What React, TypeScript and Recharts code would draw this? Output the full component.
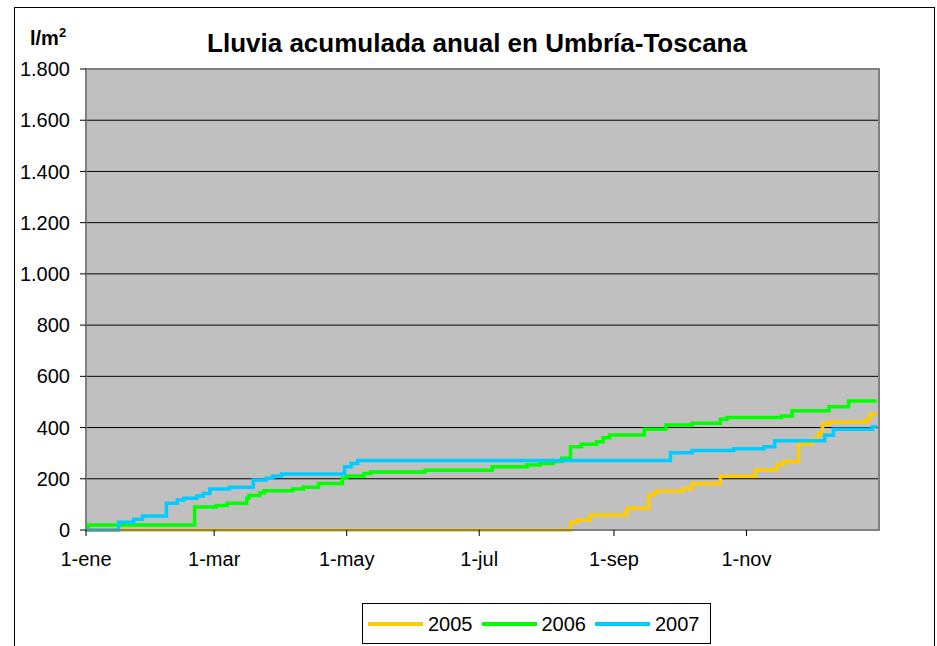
import React from 'react';
import { LineChart, Line, XAxis, YAxis, CartesianGrid, Legend, ReferenceArea } from 'recharts';

// Day-of-year ticks (0 = 1 January)
const X_TICK_DAYS = [0, 59, 120, 181, 243, 304];
const X_TICK_LABELS = ['1-ene', '1-mar', '1-may', '1-jul', '1-sep', '1-nov'];
const Y_TICKS = [0, 200, 400, 600, 800, 1000, 1200, 1400, 1600, 1800];
const Y_TICK_LABELS = ['0', '200', '400', '600', '800', '1.000', '1.200', '1.400', '1.600', '1.800'];

// Accumulated rainfall change points [day, l/m2]
const RAIN_2005: [number, number][] = [
  [0, 0], [223, 29], [226, 39], [232, 59], [249, 85], [259, 137], [262, 152],
  [275, 162], [279, 182], [292, 210], [308, 234], [318, 256], [321, 267],
  [328, 336], [334, 354], [337, 377], [339, 414], [342, 422], [359, 432], [361, 452], [364, 452],
];
const RAIN_2006: [number, number][] = [
  [0, 12], [1, 20], [50, 90], [60, 96], [65, 104], [74, 124], [75, 135], [80, 145],
  [82, 153], [95, 160], [100, 167], [107, 182], [118, 202], [120, 211], [128, 221],
  [131, 226], [156, 233], [187, 247], [203, 254], [209, 260], [215, 267], [219, 280],
  [223, 325], [228, 335], [235, 345], [238, 360], [241, 371], [257, 393], [267, 410],
  [279, 417], [292, 432], [295, 439], [320, 445], [325, 466], [342, 481], [351, 504], [364, 504],
];
const RAIN_2007: [number, number][] = [
  [0, 0], [15, 30], [22, 42], [26, 55], [37, 104], [42, 117], [45, 124], [51, 133],
  [54, 143], [57, 160], [66, 167], [77, 195], [83, 202], [86, 211], [90, 219],
  [119, 247], [122, 260], [125, 271], [269, 302], [279, 310], [298, 317], [312, 325],
  [317, 348], [340, 370], [344, 393], [362, 403], [364, 403],
];

const SERIES = [
  { name: '2005', color: '#FFCC00', points: RAIN_2005 },
  { name: '2006', color: '#00FF00', points: RAIN_2006 },
  { name: '2007', color: '#00CCFF', points: RAIN_2007 },
];

const FONT = '"Liberation Sans", Arial, Helvetica, sans-serif';

const fmtX = (d: number) => {
  const i = X_TICK_DAYS.indexOf(d);
  return i >= 0 ? X_TICK_LABELS[i] : '';
};
const fmtY = (v: number) => {
  const i = Y_TICKS.indexOf(v);
  return i >= 0 ? Y_TICK_LABELS[i] : String(v);
};

const LegendBox = () => (
  <div
    style={{
      boxSizing: 'border-box',
      width: 349,
      height: 41,
      border: '1px solid #000',
      background: '#fff',
      display: 'flex',
      alignItems: 'center',
      paddingLeft: 5,
      fontFamily: FONT,
      fontSize: 20,
      color: '#000',
    }}
  >
    {SERIES.map((s) => (
      <div key={s.name} style={{ display: 'flex', alignItems: 'center', marginRight: 9 }}>
        <svg width={55} height={8} style={{ display: 'block' }}>
          <line x1={0} y1={4} x2={55} y2={4} stroke={s.color} strokeWidth={4} />
        </svg>
        <span style={{ marginLeft: 5, lineHeight: '20px' }}>{s.name}</span>
      </div>
    ))}
  </div>
);

export default function App() {
  return (
    <div style={{ position: 'absolute', left: 0, top: 0, width: 937, height: 646, overflow: 'hidden', background: '#fff' }}>
      <div
        style={{
          position: 'absolute',
          left: 14,
          top: 7,
          width: 921,
          height: 660,
          border: '1.5px solid #000',
          boxSizing: 'border-box',
        }}
      />
      <div
        style={{
          position: 'absolute',
          left: 30,
          top: 25,
          fontFamily: FONT,
          fontWeight: 'bold',
          fontSize: 20,
          color: '#000',
        }}
      >
        l/m<sup style={{ fontSize: 13 }}>2</sup>
      </div>
      <div
        style={{
          position: 'absolute',
          left: 0,
          width: 954,
          top: 28,
          textAlign: 'center',
          fontFamily: FONT,
          fontWeight: 'bold',
          fontSize: 26,
          color: '#000',
        }}
      >
        Lluvia acumulada anual en Umbría-Toscana
      </div>
      <div style={{ position: 'absolute', left: 0, top: 0 }}>
        <LineChart width={937} height={646} margin={{ top: 69, right: 58, bottom: 76, left: 6 }}>
          <CartesianGrid horizontal vertical={false} stroke="#000" fill="#C0C0C0" fillOpacity={1} />
          <XAxis
            dataKey="day"
            type="number"
            domain={[0, 365]}
            ticks={X_TICK_DAYS}
            tickFormatter={fmtX}
            interval={0}
            height={40}
            allowDuplicatedCategory={false}
            axisLine={{ stroke: '#808080', strokeWidth: 2 }}
            tickLine={{ stroke: '#000' }}
            tickSize={6}
            tickMargin={16}
            tick={{ fill: '#000', fontSize: 20, fontFamily: FONT }}
          />
          <YAxis
            type="number"
            domain={[0, 1800]}
            ticks={Y_TICKS}
            tickFormatter={fmtY}
            interval={0}
            width={80}
            axisLine={{ stroke: '#808080', strokeWidth: 2 }}
            tickLine={{ stroke: '#000' }}
            tickSize={6}
            tickMargin={10}
            tick={{ fill: '#000', fontSize: 20, fontFamily: FONT }}
          />
          <ReferenceArea x1={0} x2={365} y1={0} y2={1800} fill="none" stroke="#808080" strokeWidth={2} ifOverflow="visible" />
          {SERIES.map((s) => (
            <Line
              key={s.name}
              name={s.name}
              data={s.points.map(([day, v]) => ({ day, v }))}
              dataKey="v"
              type="stepAfter"
              stroke={s.color}
              strokeWidth={3.5}
              dot={false}
              activeDot={false}
              isAnimationActive={false}
            />
          ))}
          <Legend
            layout="horizontal"
            verticalAlign="middle"
            align="center"
            content={() => <LegendBox />}
            wrapperStyle={{ position: 'absolute', left: 362, top: 603, width: 349, height: 41 }}
          />
        </LineChart>
      </div>
    </div>
  );
}
